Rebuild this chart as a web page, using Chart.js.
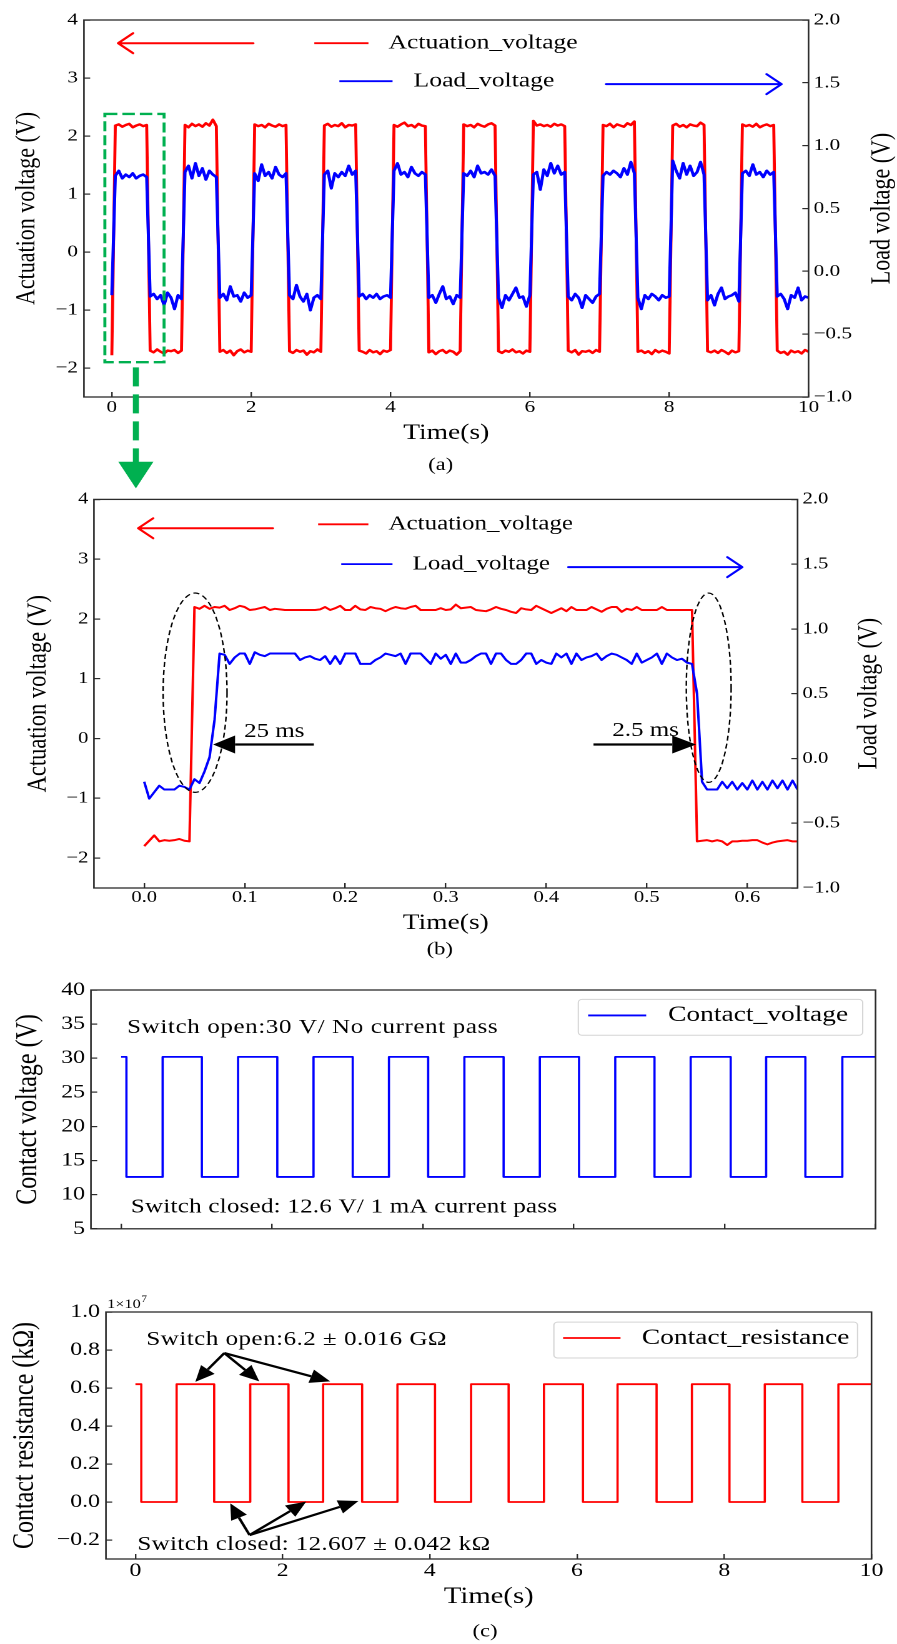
<!DOCTYPE html>
<html><head><meta charset="utf-8">
<script src="https://cdn.jsdelivr.net/npm/chart.js@4.4.1/dist/chart.umd.min.js"></script>
<style>
html,body{margin:0;padding:0;background:#fff;}
#fig{position:relative;width:897px;height:1644px;overflow:hidden;background:#fff;}
.pan{position:absolute;left:0;transform-origin:0 0;}
</style></head><body>
<div id="fig">
<div class="pan" id="pA" style="top:0px"><canvas id="cA" width="718" height="495"></canvas></div>
<div class="pan" id="pB" style="top:480px"><canvas id="cB" width="718" height="480"></canvas></div>
<div class="pan" id="pC1" style="top:960px"><canvas id="cC1" width="718" height="290"></canvas></div>
<div class="pan" id="pC2" style="top:1250px"><canvas id="cC2" width="718" height="394"></canvas></div>
</div>
<script>
// ================= DATA =================
// Panel (a): 10 s record, one sample every 0.05 s
const aTimeStep = 0.05;
const aActuation = [-1.78,
 2.18, 2.20, 2.16, 2.19, 2.21, 2.15, 2.18, 2.20, 2.17, 2.19,
 -1.70, -1.73, -1.68, -1.72, -1.75, -1.70, -1.71, -1.69, -1.74, -1.70,
 2.19, 2.15, 2.21, 2.17, 2.20, 2.16, 2.22, 2.18, 2.28, 2.17,
 -1.72, -1.69, -1.74, -1.70, -1.78, -1.71, -1.68, -1.73, -1.70, -1.72,
 2.20, 2.17, 2.19, 2.15, 2.21, 2.18, 2.16, 2.20, 2.17, 2.19,
 -1.71, -1.74, -1.69, -1.72, -1.70, -1.77, -1.71, -1.73, -1.68, -1.72,
 2.18, 2.21, 2.16, 2.19, 2.17, 2.22, 2.15, 2.19, 2.18, 2.20,
 -1.70, -1.72, -1.75, -1.69, -1.73, -1.71, -1.76, -1.70, -1.72, -1.69,
 2.19, 2.16, 2.20, 2.23, 2.17, 2.19, 2.15, 2.21, 2.18, 2.17,
 -1.73, -1.70, -1.76, -1.71, -1.69, -1.74, -1.70, -1.72, -1.77, -1.71,
 2.20, 2.17, 2.19, 2.15, 2.21, 2.18, 2.16, 2.20, 2.22, 2.18,
 -1.71, -1.74, -1.70, -1.72, -1.68, -1.73, -1.71, -1.75, -1.70, -1.72,
 2.26, 2.18, 2.20, 2.17, 2.19, 2.16, 2.21, 2.18, 2.20, 2.17,
 -1.70, -1.73, -1.69, -1.77, -1.71, -1.72, -1.70, -1.74, -1.69, -1.72,
 2.19, 2.17, 2.21, 2.15, 2.20, 2.18, 2.16, 2.22, 2.19, 2.25,
 -1.72, -1.70, -1.74, -1.71, -1.76, -1.69, -1.73, -1.70, -1.72, -1.75,
 2.18, 2.21, 2.16, 2.19, 2.15, 2.20, 2.18, 2.17, 2.23, 2.19,
 -1.71, -1.73, -1.70, -1.74, -1.69, -1.72, -1.76, -1.70, -1.73, -1.71,
 2.20, 2.17, 2.19, 2.16, 2.21, 2.15, 2.18, 2.20, 2.17, 2.19,
 -1.70, -1.74, -1.72, -1.77, -1.70, -1.73, -1.71, -1.75, -1.69, -1.72];
const aLoad = [-0.19,
 0.76, 0.80, 0.74, 0.77, 0.75, 0.78, 0.74, 0.76, 0.77, 0.75,
 -0.20, -0.18, -0.22, -0.19, -0.27, -0.17, -0.21, -0.30, -0.19, -0.22,
 0.79, 0.84, 0.74, 0.86, 0.76, 0.82, 0.73, 0.80, 0.77, 0.75,
 -0.21, -0.18, -0.23, -0.12, -0.20, -0.19, -0.24, -0.17, -0.21, -0.19,
 0.78, 0.72, 0.85, 0.76, 0.79, 0.74, 0.83, 0.77, 0.75, 0.78,
 -0.19, -0.22, -0.11, -0.20, -0.24, -0.18, -0.31, -0.21, -0.19, -0.22,
 0.77, 0.80, 0.66, 0.78, 0.75, 0.79, 0.76, 0.84, 0.77, 0.80,
 -0.20, -0.18, -0.22, -0.19, -0.21, -0.18, -0.22, -0.20, -0.19, -0.21,
 0.80, 0.86, 0.77, 0.79, 0.75, 0.83, 0.78, 0.76, 0.79, 0.77,
 -0.21, -0.19, -0.25, -0.18, -0.12, -0.22, -0.20, -0.26, -0.19, -0.21,
 0.78, 0.76, 0.80, 0.75, 0.84, 0.78, 0.79, 0.77, 0.81, 0.76,
 -0.21, -0.29, -0.19, -0.23, -0.18, -0.13, -0.21, -0.20, -0.28, -0.19,
 0.77, 0.79, 0.65, 0.81, 0.76, 0.86, 0.78, 0.84, 0.77, 0.79,
 -0.20, -0.23, -0.18, -0.21, -0.29, -0.19, -0.22, -0.25, -0.20, -0.18,
 0.76, 0.79, 0.77, 0.80, 0.78, 0.75, 0.82, 0.77, 0.87, 0.78,
 -0.21, -0.30, -0.19, -0.22, -0.18, -0.20, -0.23, -0.19, -0.21, -0.20,
 0.88, 0.80, 0.74, 0.86, 0.77, 0.84, 0.76, 0.79, 0.87, 0.77,
 -0.23, -0.19, -0.27, -0.18, -0.13, -0.22, -0.20, -0.19, -0.17, -0.24,
 0.78, 0.80, 0.76, 0.85, 0.77, 0.79, 0.75, 0.80, 0.77, 0.79,
 -0.20, -0.18, -0.22, -0.30, -0.19, -0.21, -0.13, -0.23, -0.20, -0.21];
const aXTicks = [0, 2, 4, 6, 8, 10];
const aYTicks = [-2, -1, 0, 1, 2, 3, 4];
const aY1Ticks = [-1.0, -0.5, 0.0, 0.5, 1.0, 1.5, 2.0];

// Panel (b): zoom of the first cycle, one sample every 0.005 s
const bTimeStep = 0.005;
const bActuation = [
 -1.80, -1.71, -1.62, -1.72, -1.70, -1.71, -1.70, -1.68, -1.71, -1.72,
 2.20, 2.17, 2.22, 2.17, 2.20, 2.19, 2.22, 2.15, 2.18, 2.22,
 2.20, 2.15, 2.16, 2.18, 2.20, 2.15, 2.17, 2.16, 2.15, 2.15,
 2.15, 2.15, 2.15, 2.15, 2.15, 2.16, 2.20, 2.15, 2.18, 2.22,
 2.15, 2.15, 2.22, 2.16, 2.15, 2.20, 2.18, 2.17, 2.13, 2.17,
 2.20, 2.18, 2.17, 2.20, 2.22, 2.15, 2.15, 2.15, 2.15, 2.18,
 2.15, 2.16, 2.24, 2.18, 2.19, 2.20, 2.15, 2.14, 2.13, 2.16,
 2.20, 2.17, 2.15, 2.12, 2.10, 2.18, 2.16, 2.15, 2.22, 2.18,
 2.14, 2.10, 2.14, 2.18, 2.13, 2.20, 2.15, 2.15, 2.15, 2.20,
 2.16, 2.12, 2.17, 2.20, 2.20, 2.12, 2.17, 2.15, 2.20, 2.15,
 2.15, 2.15, 2.15, 2.20, 2.15, 2.15, 2.15, 2.15, 2.15, 2.15,
 -1.72, -1.71, -1.70, -1.72, -1.70, -1.72, -1.78, -1.72, -1.72, -1.71,
 -1.71, -1.70, -1.70, -1.74, -1.77, -1.74, -1.72, -1.71, -1.70, -1.72,
 -1.72];
const bLoad = [
 -0.18, -0.31, -0.26, -0.21, -0.24, -0.24, -0.24, -0.21, -0.22, -0.24,
 -0.16, -0.19, -0.10, 0.01, 0.30, 0.81, 0.80, 0.73, 0.78, 0.81,
 0.81, 0.73, 0.82, 0.80, 0.79, 0.81, 0.81, 0.81, 0.81, 0.81,
 0.81, 0.76, 0.78, 0.79, 0.77, 0.76, 0.79, 0.73, 0.79, 0.73,
 0.81, 0.81, 0.81, 0.73, 0.73, 0.73, 0.76, 0.78, 0.81, 0.80,
 0.79, 0.81, 0.73, 0.81, 0.81, 0.81, 0.77, 0.73, 0.81, 0.77,
 0.80, 0.73, 0.81, 0.74, 0.74, 0.76, 0.79, 0.81, 0.81, 0.73,
 0.81, 0.81, 0.76, 0.73, 0.73, 0.76, 0.81, 0.81, 0.73, 0.76,
 0.74, 0.73, 0.81, 0.78, 0.81, 0.73, 0.81, 0.76, 0.78, 0.79,
 0.81, 0.76, 0.79, 0.81, 0.80, 0.78, 0.76, 0.73, 0.81, 0.74,
 0.76, 0.78, 0.81, 0.73, 0.81, 0.78, 0.76, 0.77, 0.74, 0.73,
 0.50, -0.18, -0.24, -0.24, -0.24, -0.18, -0.23, -0.18, -0.24, -0.19,
 -0.24, -0.17, -0.24, -0.18, -0.24, -0.17, -0.23, -0.17, -0.24, -0.17,
 -0.24];
const bXTicks = [0.0, 0.1, 0.2, 0.3, 0.4, 0.5, 0.6];

// Panel (c): level changes (time at which each level starts)
const cVoltTime  = [0, 0.07, 0.55, 1.07, 1.55, 2.07, 2.55, 3.07, 3.55, 4.07, 4.55, 5.07, 5.55, 6.07, 6.55, 7.07, 7.55, 8.08, 8.55, 9.07, 9.56, 10];
const cVoltLevel = [30.2, 12.6, 30.2, 12.6, 30.2, 12.6, 30.2, 12.6, 30.2, 12.6, 30.2, 12.6, 30.2, 12.6, 30.2, 12.6, 30.2, 12.6, 30.2, 12.6, 30.2, 30.2];
const cResTime   = [0, 0.08, 0.56, 1.07, 1.56, 2.08, 2.55, 3.08, 3.56, 4.07, 4.56, 5.07, 5.55, 6.08, 6.55, 7.08, 7.56, 8.07, 8.55, 9.06, 9.55, 10];
const cResLevel  = [6.2e6, 12.607, 6.2e6, 12.607, 6.2e6, 12.607, 6.2e6, 12.607, 6.2e6, 12.607, 6.2e6, 12.607, 6.2e6, 12.607, 6.2e6, 12.607, 6.2e6, 12.607, 6.2e6, 12.607, 6.2e6, 6.2e6];
const cXTicks = [0, 2, 4, 6, 8, 10];
const cVoltTicks = [5, 10, 15, 20, 25, 30, 35, 40];
const cResTicks = [-2e6, 0, 2e6, 4e6, 6e6, 8e6, 1e7];

// ================= RENDER =================
const W = 718, SX = 897 / W;
document.querySelectorAll('.pan').forEach(p => p.style.transform = `scaleX(${SX})`);
const FONT = '"Liberation Serif", "Times New Roman", serif';
Chart.defaults.font.family = FONT;
Chart.defaults.color = '#000';
const RED = '#ff0000', BLUE = '#0000ff', GREEN = '#00b050', AX = '#2b2b2b';
const fmt = (v, d) => (v < 0 ? '\u2212' : '') + Math.abs(v).toFixed(d);

function xAxis(o) {
  return {
    type: 'linear', position: 'bottom', min: o.min, max: o.max,
    afterBuildTicks: s => { s.ticks = o.ticks.map(v => ({value: v})); },
    afterFit: s => { s.height = o.height; },
    grid: {drawOnChartArea: false, drawTicks: true, tickLength: -5, color: AX, lineWidth: 1.2},
    border: {display: false},
    ticks: {display: o.labels !== false, autoSkip: false, maxRotation: 0, minRotation: 0, padding: o.tickPad,
            font: {size: o.tickSize}, callback: v => fmt(v, o.dec)},
    title: o.title ? {display: true, text: o.title, color: '#000', font: {size: o.titleSize},
                      padding: {top: 0, bottom: o.titlePad}} : {display: false}
  };
}
function yAxis(o) {
  return {
    type: 'linear', position: o.pos || 'left', min: o.min, max: o.max,
    afterBuildTicks: s => { s.ticks = o.ticks.map(v => ({value: v})); },
    afterFit: s => { s.width = o.width; },
    grid: {drawOnChartArea: false, drawTicks: true, tickLength: -5, color: AX, lineWidth: 1.2},
    border: {display: false},
    ticks: {autoSkip: false, padding: o.tickPad, font: {size: o.tickSize}, callback: o.cb || (v => fmt(v, o.dec))},
    title: o.title ? {display: true, text: o.title, color: '#000', font: {size: o.titleSize},
                      padding: {top: o.titlePad, bottom: 0}} : {display: false}
  };
}
const frame = {id: 'frame', afterDatasetsDraw(ch) {
  const {left, top, right, bottom} = ch.chartArea, c = ch.ctx;
  c.save(); c.strokeStyle = AX; c.lineWidth = 1.3; c.strokeRect(left, top, right - left, bottom - top); c.restore();
}};
function txt(c, s, x, y, size, align, spacing) {
  c.save(); c.font = `${size}px ${FONT}`; c.fillStyle = '#000'; c.textAlign = align || 'left'; c.textBaseline = 'middle';
  if (spacing) c.letterSpacing = spacing + 'px';
  c.fillText(s, x, y); c.restore();
}
function vtxt(c, s, x, y, size) { c.save(); c.translate(x, y); c.rotate(-Math.PI / 2); txt(c, s, 0, 0, size, 'center'); c.restore(); }
function seg(c, x1, y1, x2, y2, color, lw, dash) {
  c.save(); c.strokeStyle = color; c.lineWidth = lw; if (dash) c.setLineDash(dash);
  c.beginPath(); c.moveTo(x1, y1); c.lineTo(x2, y2); c.stroke(); c.restore();
}
function openArrow(c, x1, y1, x2, y2, color, lw, hl, hw) {
  const a = Math.atan2(y2 - y1, x2 - x1), bx = x2 - hl * Math.cos(a), by = y2 - hl * Math.sin(a);
  const nx = -Math.sin(a) * hw, ny = Math.cos(a) * hw;
  c.save(); c.strokeStyle = color; c.lineWidth = lw; c.lineCap = 'round'; c.lineJoin = 'round';
  c.beginPath(); c.moveTo(x1, y1); c.lineTo(x2, y2);
  c.moveTo(bx + nx, by + ny); c.lineTo(x2, y2); c.lineTo(bx - nx, by - ny); c.stroke(); c.restore();
}
function solidArrow(c, x1, y1, x2, y2, color, lw, hl, hw) {
  const a = Math.atan2(y2 - y1, x2 - x1), bx = x2 - hl * Math.cos(a), by = y2 - hl * Math.sin(a);
  const nx = -Math.sin(a) * hw, ny = Math.cos(a) * hw;
  c.save(); c.strokeStyle = color; c.fillStyle = color; c.lineWidth = lw;
  c.beginPath(); c.moveTo(x1, y1); c.lineTo(bx, by); c.stroke();
  c.beginPath(); c.moveTo(x2, y2); c.lineTo(bx + nx, by + ny); c.lineTo(bx - nx, by - ny); c.closePath(); c.fill(); c.restore();
}
function legendBox(c, x1, y1, x2, y2) {
  c.save(); c.fillStyle = 'rgba(255,255,255,0.85)'; c.strokeStyle = '#d4d4d4'; c.lineWidth = 1;
  c.beginPath(); c.roundRect(x1, y1, x2 - x1, y2 - y1, 3); c.fill(); c.stroke(); c.restore();
}
const baseOpts = {responsive: false, animation: false, devicePixelRatio: 2, events: [],
  plugins: {legend: {display: false}, tooltip: {enabled: false}},
  elements: {point: {radius: 0}, line: {tension: 0, borderJoinStyle: 'round'}}};

const aTimes = aActuation.map((_, i) => +(i * aTimeStep).toFixed(3));
const bTimes = bActuation.map((_, i) => +(i * bTimeStep).toFixed(3));

// ---------- Chart (a) ----------
new Chart(document.getElementById('cA'), {
  type: 'line',
  data: {datasets: [
    {label: 'Load_voltage', data: aLoad.map((v, i) => ({x: aTimes[i], y: v})), yAxisID: 'y1', borderColor: BLUE, borderWidth: 2.5},
    {label: 'Actuation_voltage', data: aActuation.map((v, i) => ({x: aTimes[i], y: v})), yAxisID: 'y', borderColor: RED, borderWidth: 2.4}
  ]},
  options: Object.assign({}, baseOpts, {
    layout: {padding: {top: 18, left: 0, right: 0, bottom: 0}},
    scales: {
      x: xAxis({min: -0.4, max: 10, ticks: aXTicks, dec: 0, height: 98, tickPad: 5.2, tickSize: 17, title: 'Time(s)', titleSize: 22, titlePad: 48.8}),
      y: yAxis({min: -2.5, max: 4, ticks: aYTicks, dec: 0, width: 67.2, tickPad: 9.8, tickSize: 17, title: 'Actuation voltage (V)', titleSize: 22, titlePad: 8.4}),
      y1: yAxis({pos: 'right', min: -1, max: 2, ticks: aY1Ticks, dec: 1, width: 70.8, tickPad: 9, tickSize: 17})
    }
  }),
  plugins: [frame, {id: 'decoA', afterDraw(ch) {
    const c = ch.ctx, X = v => ch.scales.x.getPixelForValue(v), Y = v => ch.scales.y.getPixelForValue(v);
    openArrow(c, X(2.03), Y(3.6), X(0.09), Y(3.6), RED, 2, 12, 10);
    seg(c, X(2.906), Y(3.6), X(3.683), Y(3.6), RED, 1.8);
    txt(c, 'Actuation_voltage', X(3.971), Y(3.6), 20.5);
    seg(c, X(3.266), Y(2.945), X(4.029), Y(2.945), BLUE, 1.8);
    txt(c, 'Load_voltage', X(4.331), Y(2.945), 20.5);
    openArrow(c, X(7.094), Y(2.894), X(9.612), Y(2.894), BLUE, 2, 12, 10);
    // green dashed zoom box and arrow
    c.save(); c.strokeStyle = GREEN; c.lineWidth = 2.4; c.setLineDash([10, 4]);
    c.strokeRect(X(-0.10), Y(2.38), X(0.75) - X(-0.10), Y(-1.90) - Y(2.38)); c.restore();
    seg(c, X(0.345), Y(-1.99), X(0.345), Y(-3.62), GREEN, 4.8, [19, 8]);
    c.save(); c.fillStyle = GREEN; c.beginPath();
    c.moveTo(X(0.345 - 0.252), Y(-3.616)); c.lineTo(X(0.345 + 0.252), Y(-3.616)); c.lineTo(X(0.345), Y(-4.075)); c.closePath(); c.fill(); c.restore();
    vtxt(c, 'Load voltage (V)', 882 / SX, (ch.chartArea.top + ch.chartArea.bottom) / 2, 22);
    txt(c, '(a)', X(4.72), Y(-3.68), 18, 'center');
  }}]
});

// ---------- Chart (b) ----------
new Chart(document.getElementById('cB'), {
  type: 'line',
  data: {datasets: [
    {label: 'Load_voltage', data: bLoad.map((v, i) => ({x: bTimes[i], y: v})), yAxisID: 'y1', borderColor: BLUE, borderWidth: 2},
    {label: 'Actuation_voltage', data: bActuation.map((v, i) => ({x: bTimes[i], y: v})), yAxisID: 'y', borderColor: RED, borderWidth: 2}
  ]},
  options: Object.assign({}, baseOpts, {
    layout: {padding: {top: 18, left: 0, right: 0, bottom: 0}},
    scales: {
      x: xAxis({min: -0.05, max: 0.65, ticks: bXTicks, dec: 1, height: 72, tickPad: 5, tickSize: 16.5, title: 'Time(s)', titleSize: 22, titlePad: 23.8}),
      y: yAxis({min: -2.5, max: 4, ticks: aYTicks, dec: 0, width: 75.2, tickPad: 9.5, tickSize: 16.5, title: 'Actuation voltage (V)', titleSize: 22.5, titlePad: 17.2}),
      y1: yAxis({pos: 'right', min: -1, max: 2, ticks: aY1Ticks, dec: 1, width: 79.6, tickPad: 9, tickSize: 16.5})
    }
  }),
  plugins: [frame, {id: 'decoB', afterDraw(ch) {
    const c = ch.ctx, X = v => ch.scales.x.getPixelForValue(v), Y = v => ch.scales.y.getPixelForValue(v);
    openArrow(c, X(0.128), Y(3.517), X(-0.006), Y(3.517), RED, 2, 12, 10);
    seg(c, X(0.173), Y(3.583), X(0.223), Y(3.583), RED, 1.8);
    txt(c, 'Actuation_voltage', X(0.243), Y(3.583), 20);
    seg(c, X(0.196), Y(2.917), X(0.247), Y(2.917), BLUE, 1.8);
    txt(c, 'Load_voltage', X(0.267), Y(2.917), 20);
    openArrow(c, X(0.422), Y(2.867), X(0.595), Y(2.867), BLUE, 2, 12, 10);
    c.save(); c.strokeStyle = '#000'; c.lineWidth = 1.2; c.setLineDash([5, 3]);
    c.beginPath(); c.ellipse(X(0.0506), Y(0.767), X(0.0506 + 0.0318) - X(0.0506), Y(0.767) - Y(0.767 + 1.667), 0, 0, Math.PI * 2); c.stroke();
    c.beginPath(); c.ellipse(X(0.5616), Y(0.85), X(0.5616 + 0.0223) - X(0.5616), Y(0.85) - Y(0.85 + 1.583), 0, 0, Math.PI * 2); c.stroke();
    c.restore();
    txt(c, '25 ms', X(0.0993), Y(0.117), 20);
    solidArrow(c, X(0.1688), Y(-0.1), X(0.0685), Y(-0.1), '#000', 2.2, 17.6, 9);
    txt(c, '2.5 ms', X(0.4657), Y(0.133), 20);
    solidArrow(c, X(0.447), Y(-0.1), X(0.549), Y(-0.1), '#000', 2.2, 19, 9);
    vtxt(c, 'Load voltage (V)', 869 / SX, (ch.chartArea.top + ch.chartArea.bottom) / 2, 22);
    txt(c, '(b)', X(0.294), Y(-3.53), 18, 'center');
  }}]
});

// ---------- Chart (c) top ----------
new Chart(document.getElementById('cC1'), {
  type: 'line',
  data: {datasets: [
    {label: 'Contact_voltage', data: cVoltTime.map((t, i) => ({x: t, y: cVoltLevel[i]})), borderColor: BLUE, borderWidth: 1.8, stepped: 'before'}
  ]},
  options: Object.assign({}, baseOpts, {
    layout: {padding: {top: 30, left: 0, right: 17.2, bottom: 0}},
    scales: {
      x: xAxis({min: -0.4, max: 10, ticks: cXTicks, dec: 0, height: 7, tickPad: 5, tickSize: 19, labels: false}),
      y: yAxis({min: 5, max: 40, ticks: cVoltTicks, dec: 0, width: 72.8, tickPad: 9.8, tickSize: 19, title: 'Contact voltage (V)', titleSize: 24, titlePad: 8.3})
    }
  }),
  plugins: [frame, {id: 'decoC1', afterDraw(ch) {
    const c = ch.ctx, X = v => ch.scales.x.getPixelForValue(v), Y = v => ch.scales.y.getPixelForValue(v);
    txt(c, 'Switch open:30 V/ No current pass', X(0.08), Y(34.47), 20, 'left', 0.5);
    txt(c, 'Switch closed: 12.6 V/ 1 mA current pass', X(0.13), Y(8.19), 20, 'left', 0.2);
    legendBox(c, X(6.06), Y(38.62), X(9.83), Y(33.36));
    seg(c, X(6.19), Y(36.27), X(6.96), Y(36.27), BLUE, 1.8);
    txt(c, 'Contact_voltage', X(7.25), Y(36.27), 22);
  }}]
});

// ---------- Chart (c) bottom ----------
new Chart(document.getElementById('cC2'), {
  type: 'line',
  data: {datasets: [
    {label: 'Contact_resistance', data: cResTime.map((t, i) => ({x: t, y: cResLevel[i]})), borderColor: RED, borderWidth: 1.8, stepped: 'before'}
  ]},
  options: Object.assign({}, baseOpts, {
    layout: {padding: {top: 62, left: 0, right: 20.4, bottom: 0}},
    scales: {
      x: xAxis({min: -0.4, max: 10, ticks: cXTicks, dec: 0, height: 85, tickPad: 5.6, tickSize: 19, title: 'Time(s)', titleSize: 23, titlePad: 33.2}),
      y: yAxis({min: -3e6, max: 1e7, ticks: cResTicks, width: 84.8, tickPad: 9.8, tickSize: 19, cb: v => fmt(v / 1e7, 1),
                title: 'Contact resistance (k\u03A9)', titleSize: 24, titlePad: 5.6})
    }
  }),
  plugins: [frame, {id: 'decoC2', afterDraw(ch) {
    const c = ch.ctx, X = v => ch.scales.x.getPixelForValue(v), Y = v => ch.scales.y.getPixelForValue(v);
    const ca = ch.chartArea;
    c.save(); c.fillStyle = '#000'; c.textBaseline = 'alphabetic'; c.textAlign = 'left';
    c.font = `13px ${FONT}`; c.fillText('1\u00D710', ca.left + 1, ca.top - 4);
    const w = c.measureText('1\u00D710').width; c.font = `9px ${FONT}`; c.fillText('7', ca.left + 1 + w + 0.5, ca.top - 10); c.restore();
    txt(c, 'Switch open:6.2 \u00B1 0.016 G\u03A9', X(0.149), Y(8.53e6), 20, 'left', 0.4);
    solidArrow(c, X(1.208), Y(7.84e6), X(0.814), Y(6.32e6), '#000', 2.2, 16, 7);
    solidArrow(c, X(1.208), Y(7.84e6), X(1.683), Y(6.35e6), '#000', 2.2, 16, 7);
    solidArrow(c, X(1.208), Y(7.84e6), X(2.646), Y(6.35e6), '#000', 2.2, 16, 7);
    txt(c, 'Switch closed: 12.607 \u00B1 0.042 k\u03A9', X(0.027), Y(-2.26e6), 20, 'left', 0.3);
    solidArrow(c, X(1.551), Y(-1.74e6), X(1.289), Y(-0.07e6), '#000', 2.2, 16, 7);
    solidArrow(c, X(1.551), Y(-1.74e6), X(2.32), Y(0.02e6), '#000', 2.2, 16, 7);
    solidArrow(c, X(1.551), Y(-1.74e6), X(3.03), Y(0.05e6), '#000', 2.2, 16, 7);
    legendBox(c, X(5.685), Y(9.47e6), X(9.81), Y(7.58e6));
    seg(c, X(5.81), Y(8.63e6), X(6.59), Y(8.63e6), RED, 1.8);
    txt(c, 'Contact_resistance', X(6.88), Y(8.63e6), 22);
    txt(c, '(c)', 485 / SX, 382, 18, 'center');
  }}]
});
</script>
</body></html>
